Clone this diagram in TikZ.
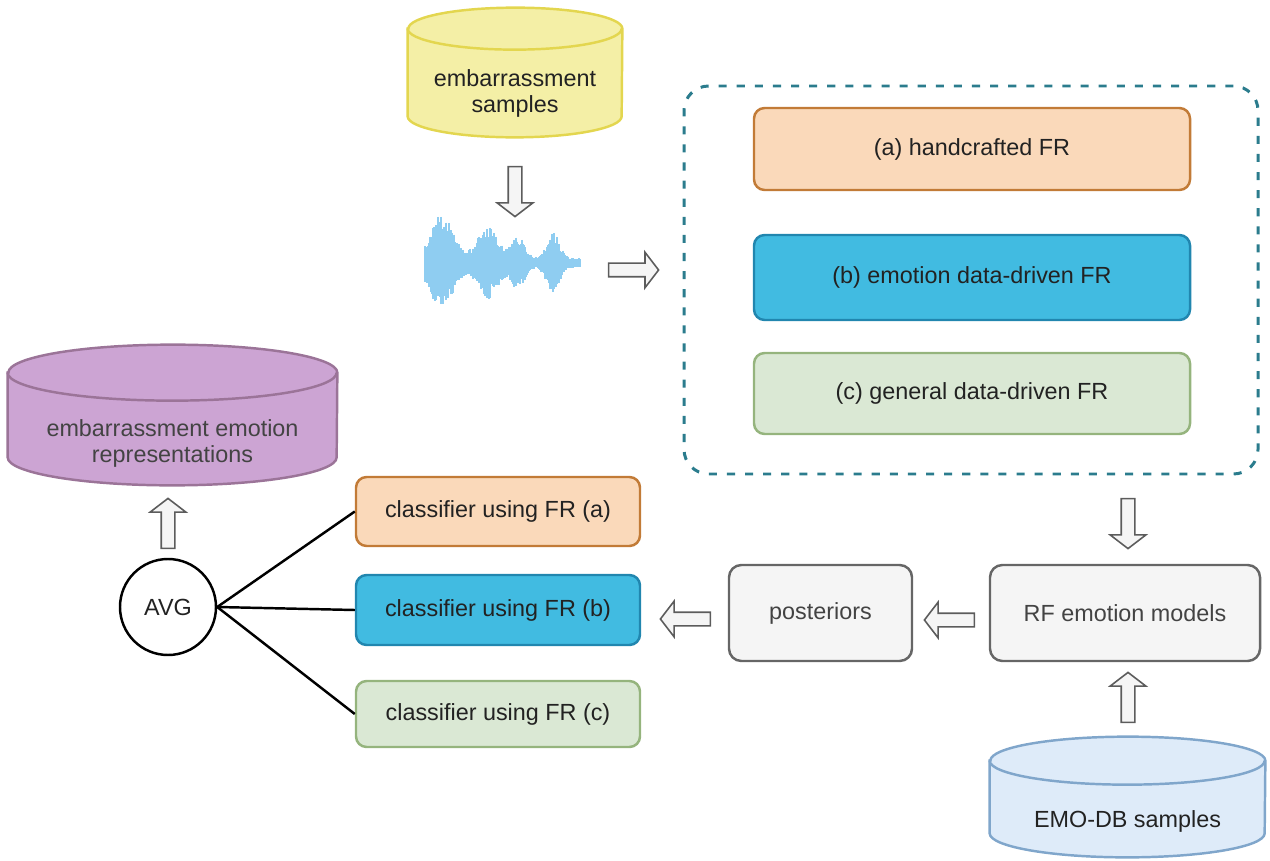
\documentclass[tikz,border=0pt]{standalone}
\usepackage{fontspec}
\setmainfont{Liberation Sans}
\usetikzlibrary{shapes.arrows,calc,backgrounds}

\newdimen\px \px=0.02cm

\definecolor{ylwfill}{HTML}{F4EFA6}
\definecolor{ylwline}{HTML}{E3D64F}
\definecolor{purfill}{HTML}{CCA4D3}
\definecolor{purline}{HTML}{9B7498}
\definecolor{emofill}{HTML}{DEEBF9}
\definecolor{emoline}{HTML}{80A6CB}
\definecolor{peachfill}{HTML}{FAD9BA}
\definecolor{peachline}{HTML}{C27B37}
\definecolor{bluefill}{HTML}{41BBE1}
\definecolor{blueline}{HTML}{2186AF}
\definecolor{greenfill}{HTML}{DAE8D4}
\definecolor{greenline}{HTML}{95B47D}
\definecolor{grayfill}{HTML}{F5F5F5}
\definecolor{grayline}{HTML}{666666}
\definecolor{dashline}{HTML}{2B7C8D}
\definecolor{wavecol}{HTML}{8FCDF1}
\definecolor{txt}{HTML}{222222}

\tikzset{
  every node/.style={font=\fontsize{13.3}{14.8}\selectfont, text=txt},
  box/.style={rectangle, rounded corners=6pt, line width=1.4pt, inner sep=0pt, align=center},
  peach/.style={box, fill=peachfill, draw=peachline},
  blue/.style={box, fill=bluefill, draw=blueline},
  green/.style={box, fill=greenfill, draw=greenline},
  gray/.style={box, rounded corners=7pt, fill=grayfill, draw=grayline, text=txt!85},
  dbtext/.style={rectangle, inner sep=0pt, align=center},
  blockarrow/.style={single arrow, draw=grayline!90!black, fill=grayfill, line width=0.9pt,
    minimum height=50\px, inner xsep=0pt, inner ysep=6\px, single arrow head extend=11\px,
    single arrow tip angle=105, single arrow head indent=0pt},
  wave/.style={draw=wavecol, line width=0.9pt},
}

% cylinder around a node: name, x radius, y radius, style
\newcommand\drawdb[4]{%
  \draw[#4] ($(#1.north west)+(0,#3)$) -- ($(#1.south west)+(0,#3)$)
    arc[start angle=180, end angle=360, x radius=#2\px, y radius=#3\px]
    -- ($(#1.north east)+(0,#3)$)
    arc[start angle=0, end angle=180, x radius=#2\px, y radius=#3\px] -- cycle;
  \draw[#4, fill=none] ($(#1.north west)+(0,#3)$)
    arc[start angle=180, end angle=360, x radius=#2\px, y radius=#3\px];}

\begin{document}
\begin{tikzpicture}[x=\px, y=\px,
  declare function={g(\u,\m,\s)=exp(-min(9,((\u-\m)/\s)*((\u-\m)/\s)));}]
\useasboundingbox (0,0) rectangle (1270,-861);

% databases
\node (emb) [dbtext, minimum width=214\px, minimum height=87\px] at (515,-93.5) {embarrassment\\samples};
\node (rep) [dbtext, minimum width=329\px, minimum height=84\px, text=txt!85] at (172.5,-443) {embarrassment emotion\\representations};
\node (emo) [dbtext, minimum width=275\px, minimum height=72\px] at (1127.5,-821) {EMO-DB samples};
\begin{scope}[on background layer]
\drawdb{emb}{107}{21}{fill=ylwfill, draw=ylwline, line width=1.4pt}
\drawdb{rep}{164.5}{28}{fill=purfill, draw=purline, line width=1.4pt}
\drawdb{emo}{137.5}{24}{fill=emofill, draw=emoline, line width=1.4pt}
\end{scope}

% waveform
\coordinate (wav) at (503,-263);
\pgfmathsetseed{11}
\foreach \i in {0,...,155}{
  \pgfmathsetmacro\env{45*g(\i,17,16)+31*g(\i,63,15)+22*g(\i,93,9)+26*g(\i,128,9)+5}
  \pgfmathsetmacro\up{\env*(0.6+0.4*rnd)}
  \pgfmathsetmacro\dn{\env*(0.6+0.4*rnd)}
  \draw[wave] ($(wav)+(\i-78,\up)$) -- ($(wav)+(\i-78,-\dn)$);
}

% feature representations
\node (grp) [rectangle, rounded corners=14pt, draw=dashline, line width=1.7pt,
  dash pattern=on 4.6pt off 5.7pt, minimum width=574\px, minimum height=388\px] at (971,-280) {};
\node (fra) [peach, minimum width=436\px, minimum height=82\px] at (972,-149) {(a) handcrafted FR};
\node (frb) [blue, minimum width=436\px, minimum height=85\px] at (972,-277.5) {(b) emotion data-driven FR};
\node (frc) [green, minimum width=436\px, minimum height=81\px] at (972,-393.5) {(c) general data-driven FR};

\node (rf) [gray, minimum width=270\px, minimum height=96\px] at (1125,-613) {RF emotion models};
\node (post) [gray, minimum width=183\px, minimum height=96\px] at (820.5,-613) {posteriors};

\node (ca) [peach, minimum width=284\px, minimum height=69\px] at (498,-511.5) {classifier using FR (a)};
\node (cb) [blue, minimum width=284\px, minimum height=70\px] at (498,-610) {classifier using FR (b)};
\node (cc) [green, minimum width=284\px, minimum height=66\px] at (498,-714) {classifier using FR (c)};

\node (avg) [circle, draw=black, line width=1.4pt, minimum size=96\px, inner sep=0pt] at (168,-607) {AVG};

% block arrows
\node (a1) [blockarrow, rotate=-90] at (515,-189) {};
\node (a2) [blockarrow] at (631,-270) {};
\node (a3) [blockarrow, rotate=-90] at (1128,-521) {};
\node (a4) [blockarrow, rotate=180] at (688,-619) {};
\node (a5) [blockarrow, rotate=180] at (952,-620) {};
\node (a6) [blockarrow, rotate=90] at (1128,-700) {};
\node (a7) [blockarrow, rotate=90] at (168,-526) {};

\draw [line width=1.4pt] (avg.east) -- (ca.west);
\draw [line width=1.4pt] (avg.east) -- (cb.west);
\draw [line width=1.4pt] (avg.east) -- (cc.west);
\end{tikzpicture}
\end{document}
